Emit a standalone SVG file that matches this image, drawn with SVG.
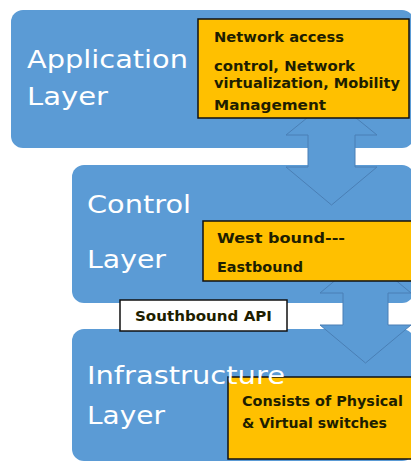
<svg xmlns="http://www.w3.org/2000/svg" width="411" height="462" viewBox="0 0 411 462">
<style>
.layer{fill:#5b9bd5}
.arrow{fill:#5b9bd5;stroke:#4a7fb5;stroke-width:1}
.note{fill:#ffc000;stroke:#111;stroke-width:1.5}
.api{fill:#fff;stroke:#111;stroke-width:1.5}
.big{font-family:"DejaVu Sans",sans-serif;font-size:25.5px;fill:#fff}
.small{font-family:"DejaVu Sans",sans-serif;font-size:13.2px;font-weight:bold;fill:#1e1e00}
</style>
<rect width="411" height="462" fill="#fff"/>
<g id="application-layer">
<rect class="layer" x="11" y="10" width="403" height="138" rx="12"/>
</g>
<g id="control-layer">
<rect class="layer" x="72" y="165" width="342" height="138" rx="12"/>
</g>
<g id="infrastructure-layer-box">
<rect class="layer" x="72" y="329" width="342" height="132" rx="12"/>
</g>
<g id="connectors">
<polygon class="arrow" points="331.5,98 377,135 355,135 355,167 377,167 331.5,205 286,167 308,167 308,135 286,135"/>
<polygon class="arrow" points="365.5,255 411,293 388,293 388,325 411,325 365.5,363 320,325 343,325 343,293 320,293"/>
</g>
<g id="application-note">
<rect class="note" x="198" y="19" width="211" height="99"/>
<text class="small" x="214" y="42" textLength="130" lengthAdjust="spacingAndGlyphs">Network access</text>
<text class="small" x="214" y="71" textLength="141" lengthAdjust="spacingAndGlyphs">control, Network</text>
<text class="small" x="214" y="88" textLength="186" lengthAdjust="spacingAndGlyphs">virtualization, Mobility</text>
<text class="small" x="214" y="110" textLength="112" lengthAdjust="spacingAndGlyphs">Management</text>
</g>
<g id="control-note">
<rect class="note" x="203" y="221" width="212" height="60"/>
<text class="small" x="217" y="243" textLength="128" lengthAdjust="spacingAndGlyphs">West bound---</text>
<text class="small" x="217" y="272" textLength="86" lengthAdjust="spacingAndGlyphs">Eastbound</text>
</g>
<g id="southbound-api">
<rect class="api" x="120" y="300" width="167" height="31"/>
<text class="small" x="135" y="321" textLength="137" lengthAdjust="spacingAndGlyphs">Southbound API</text>
</g>
<g id="infrastructure-note">
<rect class="note" x="228" y="377" width="190" height="82"/>
<text class="small" x="242" y="406" textLength="161" lengthAdjust="spacingAndGlyphs">Consists of Physical</text>
<text class="small" x="242" y="428" textLength="145" lengthAdjust="spacingAndGlyphs">&amp; Virtual switches</text>
</g>
<g id="labels">
<text class="big" x="27" y="68" textLength="161" lengthAdjust="spacingAndGlyphs">Application</text>
<text class="big" x="27" y="105" textLength="81" lengthAdjust="spacingAndGlyphs">Layer</text>
<text class="big" x="87" y="213" textLength="104" lengthAdjust="spacingAndGlyphs">Control</text>
<text class="big" x="87" y="268" textLength="79" lengthAdjust="spacingAndGlyphs">Layer</text>
<text class="big" x="87" y="384" textLength="198" lengthAdjust="spacingAndGlyphs">Infrastructure</text>
<text class="big" x="87" y="424" textLength="78" lengthAdjust="spacingAndGlyphs">Layer</text>
</g>
</svg>
